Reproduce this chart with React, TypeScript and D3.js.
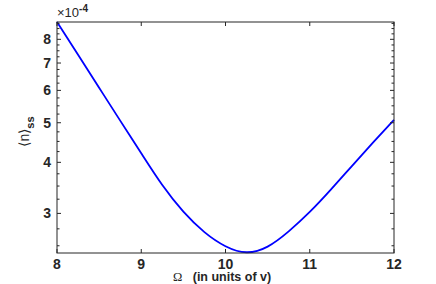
import React from 'react';
import * as d3 from 'd3';

// Omega (in units of v) and steady-state <n> (x 1e-4)
const omega = [8, 8.25, 8.5, 8.75, 9, 9.25, 9.5, 9.75, 10, 10.25, 10.5, 10.75, 11, 11.25, 11.5, 11.75, 12];
const nss = [8.82, 7.33, 6.09, 5.06, 4.21, 3.52, 3.03, 2.70, 2.494, 2.41, 2.488, 2.711, 3.024, 3.429, 3.917, 4.468, 5.084];

const xTicks = [8, 9, 10, 11, 12];
const yTicks = [3, 4, 5, 6, 7, 8];
const yMinor = d3.range(2.5, 8.8, 0.25).filter((v) => !yTicks.includes(v));

const W = 436;
const H = 284;
const margin = { top: 22, right: 42, bottom: 31, left: 57 };
const axisColor = '#262626';
const font = 'Liberation Sans, Arial, Helvetica, sans-serif';

const App = () => {
  const x = d3
    .scaleLinear()
    .domain([8, 12])
    .range([margin.left, W - margin.right]);
  const y = d3
    .scaleLog()
    .domain([2.4, 8.82])
    .range([H - margin.bottom, margin.top]);

  const line = d3
    .line<number>()
    .x((d, i) => x(omega[i]))
    .y((d) => y(d))
    .curve(d3.curveNatural);

  const left = margin.left;
  const right = W - margin.right;
  const top = margin.top;
  const bottom = H - margin.bottom;

  return (
    <svg
      width={W}
      height={H}
      style={{ position: 'absolute', left: 0, top: 0, background: '#fff' }}
    >
      <path d={line(nss) || ''} fill="none" stroke="#0000ff" strokeWidth={1.8} />

      {/* axis box */}
      <rect
        x={left}
        y={top}
        width={right - left}
        height={bottom - top}
        fill="none"
        stroke={axisColor}
        strokeWidth={1}
      />

      {/* x ticks */}
      {xTicks.map((t) => (
        <g key={'x' + t}>
          <line x1={x(t)} x2={x(t)} y1={bottom} y2={bottom - 4} stroke={axisColor} />
          <line x1={x(t)} x2={x(t)} y1={top} y2={top + 4} stroke={axisColor} />
          <text
            x={x(t)}
            y={bottom + 16}
            textAnchor="middle"
            fontFamily={font}
            fontSize={14}
            fontWeight="bold"
            fill={axisColor}
          >
            {t}
          </text>
        </g>
      ))}

      {/* y ticks */}
      {yTicks.map((t) => (
        <g key={'y' + t}>
          <line x1={left} x2={left + 4} y1={y(t)} y2={y(t)} stroke={axisColor} />
          <line x1={right} x2={right - 4} y1={y(t)} y2={y(t)} stroke={axisColor} />
          <text
            x={left - 6}
            y={y(t)}
            dy="0.36em"
            textAnchor="end"
            fontFamily={font}
            fontSize={14}
            fontWeight="bold"
            fill={axisColor}
          >
            {t}
          </text>
        </g>
      ))}
      {yMinor.map((t) => (
        <g key={'m' + t}>
          <line x1={left} x2={left + 2.5} y1={y(t)} y2={y(t)} stroke={axisColor} />
          <line x1={right} x2={right - 2.5} y1={y(t)} y2={y(t)} stroke={axisColor} />
        </g>
      ))}

      {/* exponent */}
      <text x={left} y={top - 5} fontFamily={font} fontSize={13} fill={axisColor}>
        ×10
        <tspan dy={-5} fontSize={10} fontWeight="bold">
          -4
        </tspan>
      </text>

      {/* y label */}
      <text
        transform={`translate(${29},${(top + bottom) / 2 - 6}) rotate(-90)`}
        textAnchor="middle"
        fontFamily={font}
        fontSize={14}
        fill={axisColor}
      >
        ⟨n⟩
        <tspan dy={5} fontSize={11} fontWeight="bold">
          ss
        </tspan>
      </text>

      {/* x label */}
      <text
        x={173}
        y={281}
        fontFamily={font}
        fontSize={12.5}
        fontWeight="bold"
        fill={axisColor}
        style={{ whiteSpace: 'pre' }}
      >
        <tspan fontFamily="Liberation Serif, Times New Roman, serif" fontWeight="normal">
          Ω
        </tspan>
        {'   (in units of v)'}
      </text>
    </svg>
  );
};

export default App;
